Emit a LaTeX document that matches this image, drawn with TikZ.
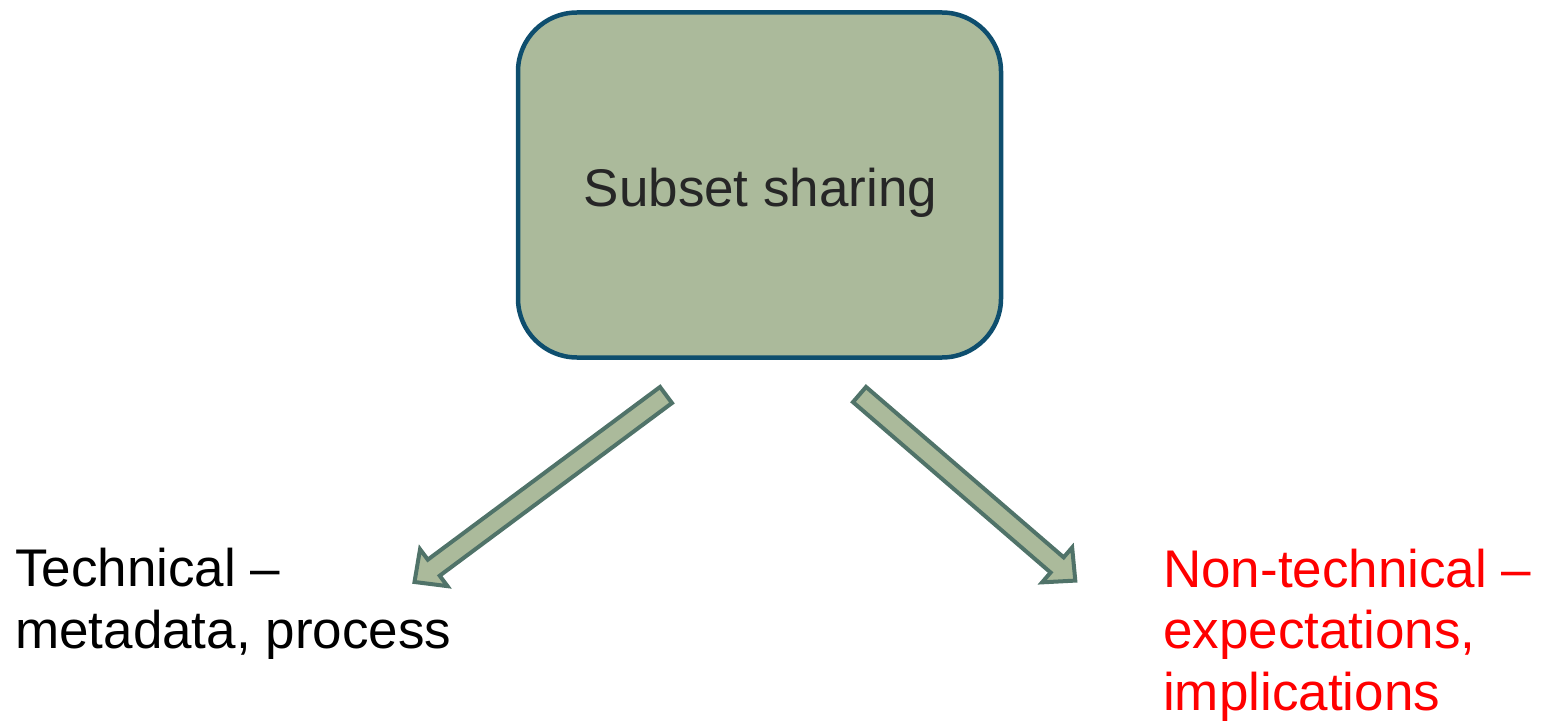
\documentclass[tikz,border=0pt]{standalone}
\usepackage{fontspec}
\setmainfont{Liberation Sans}
\usetikzlibrary{calc}

\definecolor{boxfill}{RGB}{171,186,155}
\definecolor{boxline}{RGB}{14,78,110}
\definecolor{arrowline}{RGB}{80,115,105}
\definecolor{textgrey}{RGB}{38,38,38}
\definecolor{alertred}{RGB}{255,0,0}

\tikzset{
  hubbox/.style={draw=boxline, fill=boxfill, line width=4.5pt,
    rounded corners=59pt, minimum width=483pt, minimum height=345pt,
    inner sep=0pt},
  hubtext/.style={text=textgrey, font=\fontsize{53}{61}\selectfont,
    inner sep=0pt, anchor=base},
  branchtext/.style={font=\fontsize{53}{61.5}\selectfont, align=left,
    inner sep=0pt, anchor=base west},
  blockarrow/.style={fill=boxfill, draw=arrowline, line width=4pt,
    line join=miter},
}

% block arrow from tail coordinate #1 to tip coordinate #2
\newcommand\blockarrowdraw[2]{%
  \coordinate (#1h) at ($(#2)!24pt!(#1)$);
  \draw[blockarrow]
    ($(#1)!10pt!90:(#2)$) -- ($(#1h)!10pt!90:(#2)$) --
    ($(#1h)!23pt!90:(#2)$) -- (#2) --
    ($(#1h)!23pt!-90:(#2)$) -- ($(#1h)!10pt!-90:(#2)$) --
    ($(#1)!10pt!-90:(#2)$) -- cycle;
}

\begin{document}
\begin{tikzpicture}[x=1pt, y=-1pt]
  \useasboundingbox (0,0) rectangle (1544,722);

  \node[hubbox] (hub) at (759.5,185) {};
  \node[hubtext] (hublabel) at (760.5,206.7) {Subset sharing};

  % arrow ends
  \coordinate (ltail) at (666,395);
  \coordinate (ltip)  at (414.5,582);
  \coordinate (rtail) at (859.5,394.5);
  \coordinate (rtip)  at (1075.3,580.6);

  \blockarrowdraw{ltail}{ltip}
  \blockarrowdraw{rtail}{rtip}

  % multi-line nodes sit on the baseline of their last line
  \node[branchtext] (tech) at (15,648) {Technical --\\metadata, process};
  \node[branchtext, text=alertred] (nontech) at (1163,710)
    {Non-technical --\\expectations,\\implications};
\end{tikzpicture}
\end{document}
